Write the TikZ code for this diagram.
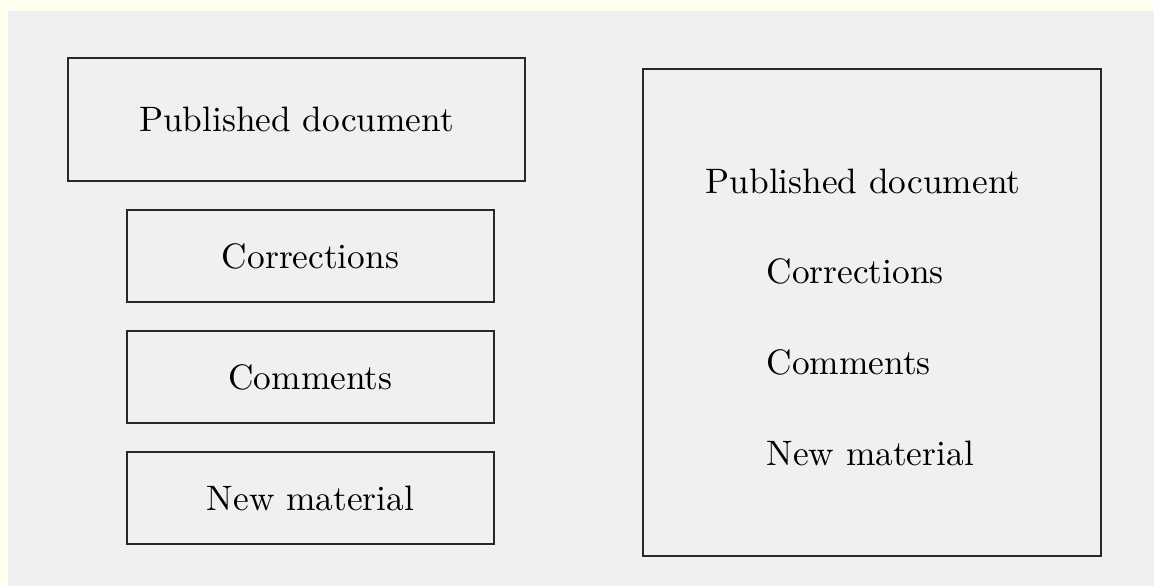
\documentclass[tikz,border=0pt]{standalone}
\usepackage{tikz}
\usetikzlibrary{positioning}
\definecolor{DocEdge}{RGB}{40,40,40}
\definecolor{DocBack}{RGB}{240,240,240}
\definecolor{DocRim}{RGB}{255,255,240}

\begin{document}
\begin{tikzpicture}[
  x=0.3pt,y=-0.3pt,
  node distance=8.1pt,
  font=\fontsize{10.6}{13}\selectfont,
  box/.style={draw=DocEdge,line width=0.6pt,align=center,minimum width=110.1pt,
              minimum height=27.6pt,inner sep=0pt},
  bigbox/.style={box,minimum width=137.1pt,minimum height=36.9pt},
  item/.style={anchor=west,inner sep=0pt}
]
% canvas
\fill[DocRim] (0,0) rectangle (1154,586);
\fill[DocBack] (8,11) rectangle (1154,586);
\useasboundingbox (0,0) rectangle (1154,586);
% left: separate parts
\node[bigbox] (pub) at (296.5,119.5) {Published document};
\node[box,below=of pub,xshift=4.2pt] (corr) {Corrections};
\node[box,below=of corr] (comm) {Comments};
\node[box,below=of comm] (newm) {New material};
% right: one document
\node[box,minimum width=137.4pt,minimum height=146.1pt] (whole) at (872,312.5) {};
\node[item] (wpub) at (705,181) {Published document};
\node[item] (wcorr) at (766,271) {Corrections};
\node[item] (wcomm) at (766,362) {Comments};
\node[item] (wnewm) at (766,453) {New material};
\end{tikzpicture}
\end{document}
